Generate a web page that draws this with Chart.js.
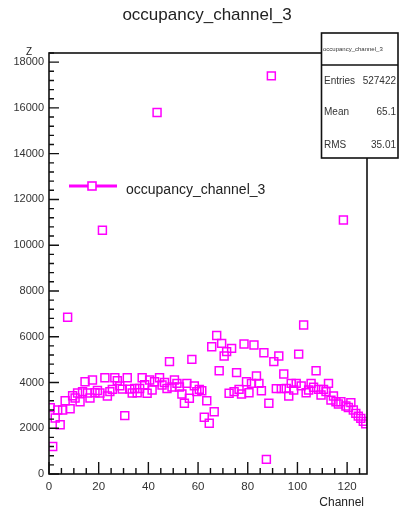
<!DOCTYPE html>
<html>
<head>
<meta charset="utf-8">
<script src="https://cdn.jsdelivr.net/npm/chart.js@4/dist/chart.umd.min.js"></script>
<style>
html,body{margin:0;padding:0;background:#fff;}
#wrap{width:399px;height:512px;position:relative;}
canvas{display:block;}
</style>
</head>
<body>
<div id="wrap"><canvas id="c" width="399" height="512"></canvas></div>
<script>
// ---- data ----
const channels = [0,1,2,3,4,5,6,7,8,9,10,11,12,13,14,15,16,17,18,19,20,21,22,23,24,25,26,27,28,29,30,31,32,33,34,35,36,37,38,39,40,41,42,43,44,45,46,47,48,49,50,51,52,53,54,55,56,57,58,59,60,61,62,63,64,65,66,67,68,69,70,71,72,73,74,75,76,77,78,79,80,81,82,83,84,85,86,87,88,89,90,91,92,93,94,95,96,97,98,99,100,101,102,103,104,105,106,107,108,109,110,111,112,113,114,115,116,117,118,119,120,121,122,123,124,125,126,127];
const counts = [2900,1200,2450,2800,2150,2800,3200,6850,2850,3420,
  3320,3540,3160,3600,4030,3540,3320,4110,3550,3650,
  3540,10650,4210,3410,3600,3700,4210,4080,3850,3710,
  2550,4210,3710,3540,3740,3550,3740,4210,3900,3530,
  4110,3670,4030,15800,4210,3890,4000,3740,4910,3800,
  4110,3960,3800,3500,3090,3960,3310,5010,3850,3600,
  3700,3640,2480,3200,2220,5560,2720,6050,4510,5710,
  5160,5350,3530,5490,3600,4430,3700,3500,5680,4030,
  3550,3960,5640,4280,3960,3640,5300,640,3090,17400,
  4910,3730,5160,3730,4370,3740,3410,3960,3670,3960,
  5240,3850,6510,3550,3670,3960,3790,4510,3700,3450,
  3700,3600,3960,3230,3410,3160,3060,3160,11100,2970,
  2910,3120,2800,2650,2530,2430,2300,2190];
const xTicks = [0,20,40,60,80,100,120];
const yTicks = [0,2000,4000,6000,8000,10000,12000,14000,16000,18000];
const seriesName = 'occupancy_channel_3';
const stats = [['Entries','527422'],['Mean','65.1'],['RMS','35.01']];

const X_MIN = 0, X_MAX = 128, Y_MIN = 0, Y_MAX = 18400;
const MAG = '#ff00ff';
const FONT = '"Liberation Sans", Arial, Helvetica, sans-serif';

const points = channels.map((c, i) => ({x: c + 0.5, y: counts[i]}));

const rootPlugin = {
  id: 'rootDecor',
  afterDraw(chart) {
    const ctx = chart.ctx;
    const xs = chart.scales.x, ys = chart.scales.y;
    const L = xs.left, R = xs.right, T = ys.top, B = ys.bottom;
    ctx.save();
    // frame
    ctx.strokeStyle = '#111';
    ctx.lineWidth = 1.6;
    ctx.strokeRect(L, T, R - L, B - T);
    // ticks (inward)
    ctx.lineWidth = 1.4;
    ctx.beginPath();
    for (let v = X_MIN; v <= X_MAX + 1e-9; v += 5) {
      const px = xs.getPixelForValue(v);
      const len = (v % 20 === 0) ? 12 : 6;
      ctx.moveTo(px, B); ctx.lineTo(px, B - len);
    }
    for (let v = Y_MIN; v <= Y_MAX + 1e-9; v += 400) {
      const py = ys.getPixelForValue(v);
      const len = (v % 2000 === 0) ? 10 : 5;
      ctx.moveTo(L, py); ctx.lineTo(L + len, py);
    }
    ctx.stroke();

    // title
    ctx.fillStyle = '#222';
    ctx.font = '17px ' + FONT;
    ctx.textAlign = 'center';
    ctx.textBaseline = 'middle';
    ctx.fillText(seriesName, 207, 15);

    // axis titles
    ctx.font = '12px ' + FONT;
    ctx.textAlign = 'right';
    ctx.fillText('Channel', 364, 503);
    ctx.font = '10px ' + FONT;
    ctx.textAlign = 'center';
    ctx.fillText('Z', 29, 52);

    // legend
    ctx.strokeStyle = MAG;
    ctx.lineWidth = 3;
    ctx.beginPath();
    ctx.moveTo(69, 186); ctx.lineTo(117, 186);
    ctx.stroke();
    ctx.lineWidth = 1.6;
    ctx.fillStyle = '#fff';
    ctx.fillRect(88, 182, 8, 8);
    ctx.strokeRect(88, 182, 8, 8);
    ctx.fillStyle = '#222';
    ctx.font = '14px ' + FONT;
    ctx.textAlign = 'left';
    ctx.fillText(seriesName, 126, 190);

    // stats box
    const bx = 321.5, by = 33, bw = 76.5, bh = 125;
    ctx.fillStyle = '#fff';
    ctx.fillRect(bx, by, bw, bh);
    ctx.strokeStyle = '#111';
    ctx.lineWidth = 1.6;
    ctx.strokeRect(bx, by, bw, bh);
    ctx.beginPath();
    ctx.moveTo(bx, 65); ctx.lineTo(bx + bw, 65);
    ctx.stroke();
    ctx.fillStyle = '#333';
    ctx.font = '6px ' + FONT;
    ctx.textAlign = 'left';
    ctx.fillText(seriesName, 323, 49);
    ctx.font = '10px ' + FONT;
    const rowsY = [81, 112, 145];
    stats.forEach((s, i) => {
      ctx.textAlign = 'left';
      ctx.fillText(s[0], 324, rowsY[i]);
      ctx.textAlign = 'right';
      ctx.fillText(s[1], 396, rowsY[i]);
    });
    ctx.restore();
  }
};

new Chart(document.getElementById('c'), {
  type: 'scatter',
  data: {
    datasets: [{
      label: seriesName,
      data: points,
      pointStyle: 'rect',
      pointRadius: 5.6,
      pointBorderColor: MAG,
      borderColor: MAG,
      pointBackgroundColor: 'rgba(0,0,0,0)',
      backgroundColor: 'rgba(0,0,0,0)',
      pointBorderWidth: 1.5,
      borderWidth: 1.5,
      showLine: false
    }]
  },
  options: {
    responsive: false,
    animation: false,
    devicePixelRatio: 1,
    layout: {padding: {left: 0, right: 32, top: 53, bottom: 0}},
    plugins: {legend: {display: false}, tooltip: {enabled: false}, title: {display: false}},
    scales: {
      x: {
        type: 'linear', min: X_MIN, max: X_MAX,
        grid: {display: false, drawTicks: false, tickLength: 0},
        border: {display: false},
        afterBuildTicks: s => { s.ticks = xTicks.map(v => ({value: v})); },
        afterFit: s => { s.height = 38; },
        ticks: {padding: 6, color: '#333', font: {family: FONT, size: 11.5}, maxRotation: 0, autoSkip: false,
          callback: v => String(v)}
      },
      y: {
        type: 'linear', min: Y_MIN, max: Y_MAX,
        grid: {display: false, drawTicks: false, tickLength: 0},
        border: {display: false},
        afterBuildTicks: s => { s.ticks = yTicks.map(v => ({value: v})); },
        afterFit: s => { s.width = 49; },
        ticks: {padding: 5, color: '#333', font: {family: FONT, size: 11}, autoSkip: false,
          callback: v => String(v)}
      }
    }
  },
  plugins: [rootPlugin]
});
</script>
</body>
</html>
